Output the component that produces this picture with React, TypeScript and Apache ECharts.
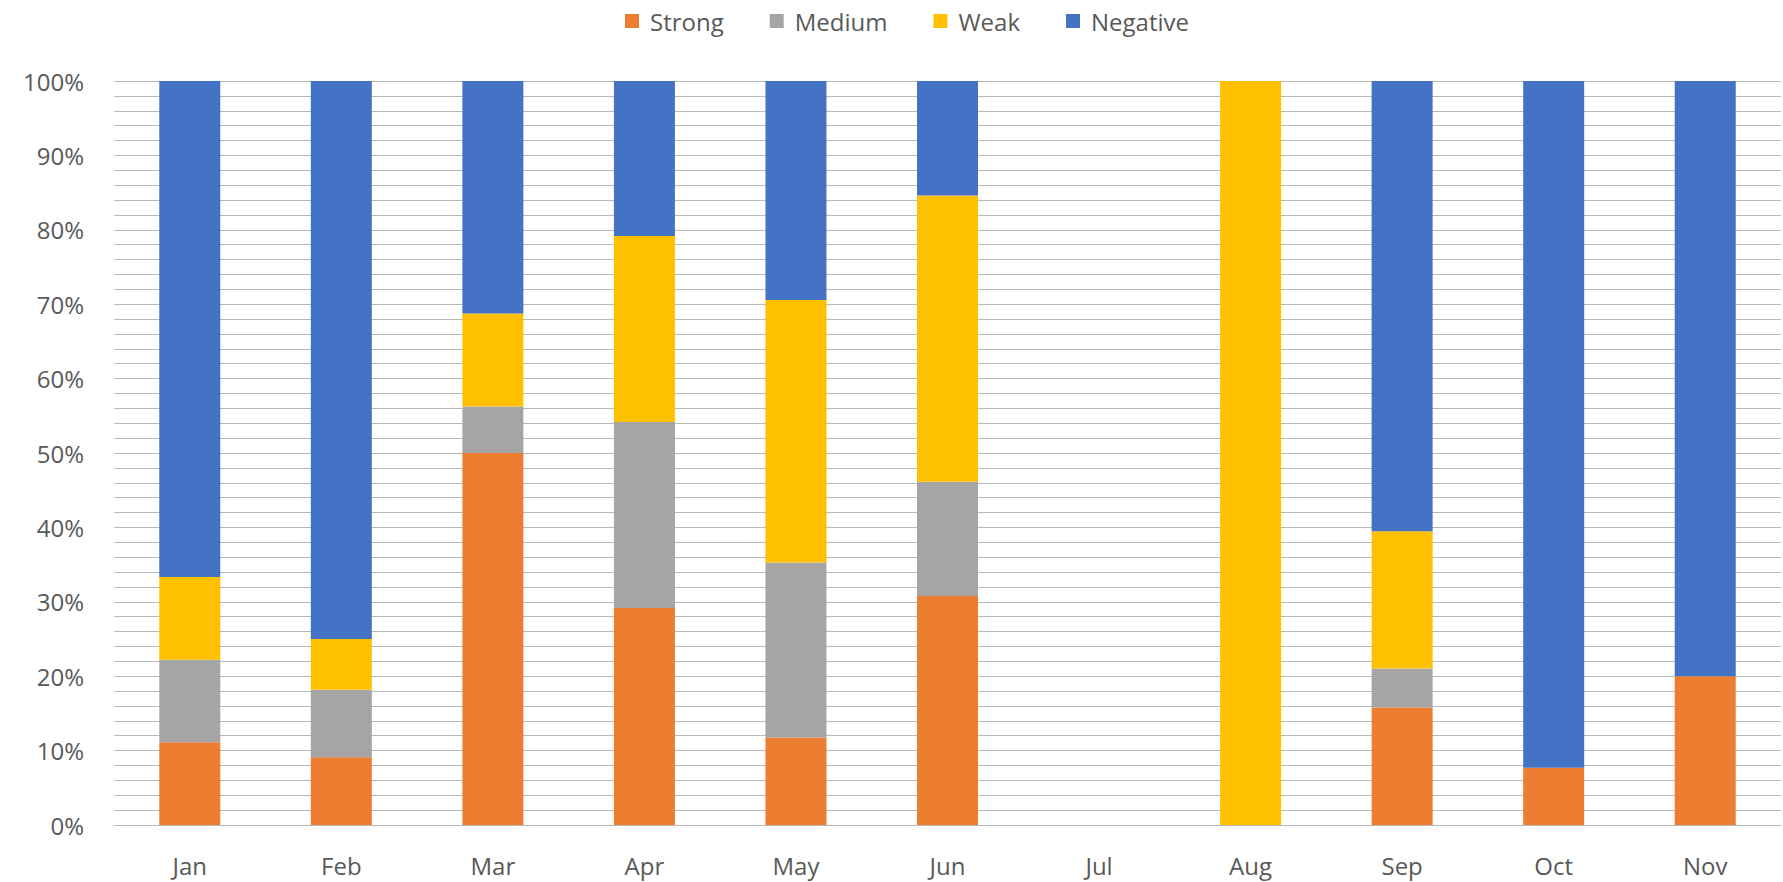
import React, { useEffect, useRef } from "react";
import * as echarts from "echarts";

const months = ["Jan", "Feb", "Mar", "Apr", "May", "Jun", "Jul", "Aug", "Sep", "Oct", "Nov"];
const strong = [11.11, 9.09, 50, 29.17, 11.76, 30.77, 0, 0, 15.79, 7.69, 20];
const medium = [11.11, 9.09, 6.25, 25, 23.53, 15.38, 0, 0, 5.26, 0, 0];
const weak = [11.11, 6.82, 12.5, 25, 35.29, 38.46, 0, 100, 18.42, 0, 0];
const negative = [66.67, 75, 31.25, 20.83, 29.42, 15.39, 0, 0, 60.53, 92.31, 80];

const seriesNames = ["Strong", "Medium", "Weak", "Negative"];
const seriesColors = ["#ED7D31", "#A5A5A5", "#FFC000", "#4472C4"];
const seriesData = [strong, medium, weak, negative];

const FONT = "Open Sans";
const TEXT_COLOR = "#595959";
const GRID_COLOR = "#b8b8b8";

export default function App() {
  const ref = useRef<HTMLDivElement>(null);
  useEffect(() => {
    if (!ref.current) return;
    const chart = echarts.init(ref.current, undefined, { renderer: "svg" });
    chart.setOption({
      animation: false,
      backgroundColor: "#ffffff",
      textStyle: { fontFamily: FONT },
      legend: {
        top: 4,
        left: 620,
        itemWidth: 14,
        itemHeight: 14,
        itemGap: 46,
        icon: "rect",
        data: seriesNames,
        textStyle: {
          fontFamily: FONT,
          fontSize: 24,
          color: TEXT_COLOR,
          padding: [0, 0, 0, 6],
        },
      },
      grid: { left: 114, right: 2, top: 81, bottom: 57, containLabel: false },
      xAxis: {
        type: "category",
        data: months,
        axisTick: { show: false },
        axisLine: { show: true, lineStyle: { color: GRID_COLOR, width: 1 } },
        axisLabel: { color: TEXT_COLOR, fontFamily: FONT, fontSize: 24, margin: 28 },
        splitLine: { show: false },
      },
      yAxis: {
        type: "value",
        min: 0,
        max: 100,
        interval: 10,
        axisLine: { show: false },
        axisTick: { show: false },
        axisLabel: {
          formatter: "{value}%",
          color: TEXT_COLOR,
          fontFamily: FONT,
          fontSize: 24,
          margin: 30,
        },
        splitLine: { show: true, lineStyle: { color: GRID_COLOR, width: 1 } },
        minorTick: { show: false, splitNumber: 5 },
        minorSplitLine: { show: true, lineStyle: { color: GRID_COLOR, width: 1 } },
      },
      series: seriesNames.map((name, i) => ({
        name,
        type: "bar",
        stack: "total",
        barWidth: 61,
        data: seriesData[i],
        itemStyle: { color: seriesColors[i] },
        emphasis: { disabled: true },
      })),
    });
    return () => chart.dispose();
  }, []);
  return (
    <div
      ref={ref}
      style={{ position: "absolute", left: 0, top: 0, width: 1783, height: 882 }}
    />
  );
}
